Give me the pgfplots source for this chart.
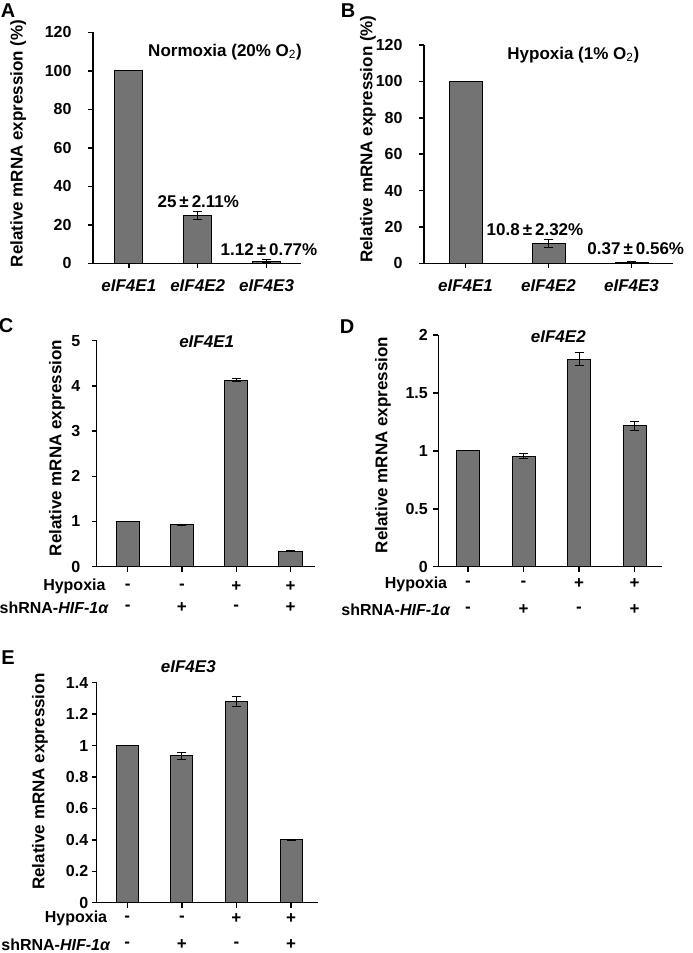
\documentclass[border=0pt]{standalone}
\usepackage{pgfplots}
\pgfplotsset{compat=1.18}
\usepackage{fontspec}
\setmainfont{Liberation Sans}
\definecolor{barfill}{RGB}{115,115,115}
\newcommand\f{\fontsize{17}{20}\selectfont\bfseries}
\newcommand\ft{\fontsize{16}{19}\selectfont\bfseries}
\newcommand\PL{\fontsize{20}{24}\selectfont\bfseries}
\newcommand\PM{\kern3pt±\kern3pt}
\pgfplotsset{
  base/.style={
    scale only axis,
    anchor=south west,
    axis x line*=bottom, axis y line*=left,
    axis line style={line width=1.5pt, black},
    tick align=outside,
    major tick length=5pt,
    tick style={line width=1.5pt, black},
    ymin=0,
    /pgf/number format/assume math mode=true,
    ticklabel style={font=\ft},
    label style={font=\f},
    clip=false,
  },
  bars/.style={ybar, fill=barfill, draw=black, line width=1pt,
    error bars/.cd, y dir=both, y explicit,
    error bar style={line width=1pt, black},
    error mark options={rotate=90, mark size=4.5pt, line width=1pt, black}},
}
\begin{document}
\begin{tikzpicture}
\useasboundingbox (0,0) rectangle (693pt,953pt);
% ---------------- A
\begin{axis}[base, at={(93pt,689.7pt)}, width=208pt, height=230.8pt,
  xmin=-0.52, xmax=2.5, ymax=120, ytick={0,20,40,60,80,100,120},
  yticklabel style={xshift=-13pt},
  bar width=28pt, xtick={0,1,2}, xticklabels={eIF4E1,eIF4E2,eIF4E3},
  xticklabel style={font=\f\itshape, yshift=-8pt},
  ylabel={Relative mRNA expression (\%)},
  ylabel style={at={(axis description cs:-0.36,0.519)}, anchor=center}]
\addplot[bars] coordinates {(0,100) +- (0,0) (1,25) +- (0,2.11) (2,1.12) +- (0,0.77)};
\end{axis}
% ---------------- B
\begin{axis}[base, at={(424pt,689.7pt)}, width=249pt, height=218.3pt,
  xmin=-0.5, xmax=2.5, ymax=120, ytick={0,20,40,60,80,100,120},
  yticklabel style={xshift=-13pt},
  bar width=33pt, xtick={0,1,2}, xticklabels={eIF4E1,eIF4E2,eIF4E3},
  xticklabel style={font=\f\itshape, yshift=-8pt},
  ylabel={Relative mRNA expression (\%)},
  ylabel style={at={(axis description cs:-0.225,0.569)}, anchor=center}]
\addplot[bars] coordinates {(0,100) +- (0,0) (1,10.8) +- (0,2.32) (2,0.37) +- (0,0.56)};
\end{axis}
% ---------------- C
\begin{axis}[base, at={(96.7pt,386.3pt)}, width=218.3pt, height=226pt,
  xmin=-0.57, xmax=3.45, ymax=5, ytick={0,1,2,3,4,5},
  yticklabel style={xshift=-8pt},
  bar width=23.3pt, xtick={0,1,2,3}, xticklabels={,,,},
  ylabel={Relative mRNA expression},
  ylabel style={at={(axis description cs:-0.182,0.525)}, anchor=center}]
\addplot[bars] coordinates {(0,1.0) +- (0,0) (1,0.93) +- (0,0.01) (2,4.13) +- (0,0.04) (3,0.34) +- (0,0.01)};
\node[font=\f, yshift=-20pt] at (axis cs:0,0) {-};
\node[font=\f, yshift=-20pt] at (axis cs:1,0) {-};
\node[font=\f, yshift=-20pt] at (axis cs:2,0) {+};
\node[font=\f, yshift=-20pt] at (axis cs:3,0) {+};
\node[font=\f, yshift=-40.6pt] at (axis cs:0,0) {-};
\node[font=\f, yshift=-40.6pt] at (axis cs:1,0) {+};
\node[font=\f, yshift=-40.6pt] at (axis cs:2,0) {-};
\node[font=\f, yshift=-40.6pt] at (axis cs:3,0) {+};
\end{axis}
% ---------------- D
\begin{axis}[base, at={(438.3pt,386.3pt)}, width=223.4pt, height=231.7pt,
  xmin=-0.535, xmax=3.49, ymax=2, ytick={0,0.5,1,1.5,2},
  yticklabel style={xshift=-2pt},
  bar width=23pt, xtick={0,1,2,3}, xticklabels={,,,},
  ylabel={Relative mRNA expression},
  ylabel style={at={(axis description cs:-0.2475,0.525)}, anchor=center}]
\addplot[bars] coordinates {(0,1.0) +- (0,0) (1,0.955) +- (0,0.025) (2,1.79) +- (0,0.055) (3,1.215) +- (0,0.04)};
\node[font=\f, yshift=-17pt] at (axis cs:0,0) {-};
\node[font=\f, yshift=-17pt] at (axis cs:1,0) {-};
\node[font=\f, yshift=-17pt] at (axis cs:2,0) {+};
\node[font=\f, yshift=-17pt] at (axis cs:3,0) {+};
\node[font=\f, yshift=-43.3pt] at (axis cs:0,0) {-};
\node[font=\f, yshift=-43.3pt] at (axis cs:1,0) {+};
\node[font=\f, yshift=-43.3pt] at (axis cs:2,0) {-};
\node[font=\f, yshift=-43.3pt] at (axis cs:3,0) {+};
\end{axis}
% ---------------- E
\begin{axis}[base, at={(96.7pt,50.3pt)}, width=221.6pt, height=220pt,
  xmin=-0.56, xmax=3.5, ymax=1.4, ytick={0,0.2,0.4,0.6,0.8,1,1.2,1.4},
  bar width=22pt, xtick={0,1,2,3}, xticklabels={,,,},
  ylabel={Relative mRNA expression},
  ylabel style={at={(axis description cs:-0.256,0.55)}, anchor=center}]
\addplot[bars] coordinates {(0,1.0) +- (0,0) (1,0.935) +- (0,0.023) (2,1.28) +- (0,0.034) (3,0.40) +- (0,0.003)};
\node[font=\f, yshift=-15.6pt] at (axis cs:0,0) {-};
\node[font=\f, yshift=-15.6pt] at (axis cs:1,0) {-};
\node[font=\f, yshift=-15.6pt] at (axis cs:2,0) {+};
\node[font=\f, yshift=-15.6pt] at (axis cs:3,0) {+};
\node[font=\f, yshift=-42.3pt] at (axis cs:0,0) {-};
\node[font=\f, yshift=-42.3pt] at (axis cs:1,0) {+};
\node[font=\f, yshift=-42.3pt] at (axis cs:2,0) {-};
\node[font=\f, yshift=-42.3pt] at (axis cs:3,0) {+};
\end{axis}
% ---------------- texts
\node[font=\f] at (225pt,901pt) {Normoxia (20\% O\textsubscript{\mdseries 2})};
\node[font=\f] at (573.3pt,898pt) {Hypoxia (1\% O\textsubscript{\mdseries 2})};
\node[font=\f] at (198.3pt,751.3pt) {25\PM2.11\%};
\node[font=\f] at (269pt,703.7pt) {1.12\PM0.77\%};
\node[font=\f] at (535pt,723pt) {10.8\PM2.32\%};
\node[font=\f] at (635.8pt,704.7pt) {0.37\PM0.56\%};
\node[font=\f\itshape] at (206.7pt,611.3pt) {eIF4E1};
\node[font=\f\itshape] at (558.3pt,616.3pt) {eIF4E2};
\node[font=\f\itshape] at (188.3pt,286.3pt) {eIF4E3};
\node[font=\ft, anchor=east, inner xsep=1pt] at (106.7pt,366.3pt) {Hypoxia};
\node[font=\ft, anchor=east, inner xsep=1pt] at (110pt,345.7pt) {shRNA-\textit{HIF-1α}};
\node[font=\ft, anchor=east, inner xsep=1pt, inner ysep=1pt] at (448.3pt,369pt) {Hypoxia};
\node[font=\ft, anchor=east, inner xsep=1pt] at (451.7pt,343pt) {shRNA-\textit{HIF-1α}};
\node[font=\ft, anchor=east, inner xsep=1pt] at (108.3pt,34.7pt) {Hypoxia};
\node[font=\ft, anchor=east, inner xsep=1pt] at (111.7pt,8pt) {shRNA-\textit{HIF-1α}};
\node[font=\PL] at (8pt,942pt) {A};
\node[font=\PL] at (348pt,942pt) {B};
\node[font=\PL] at (6pt,627pt) {C};
\node[font=\PL] at (347pt,626pt) {D};
\node[font=\PL] at (8pt,295pt) {E};
\end{tikzpicture}
\end{document}
